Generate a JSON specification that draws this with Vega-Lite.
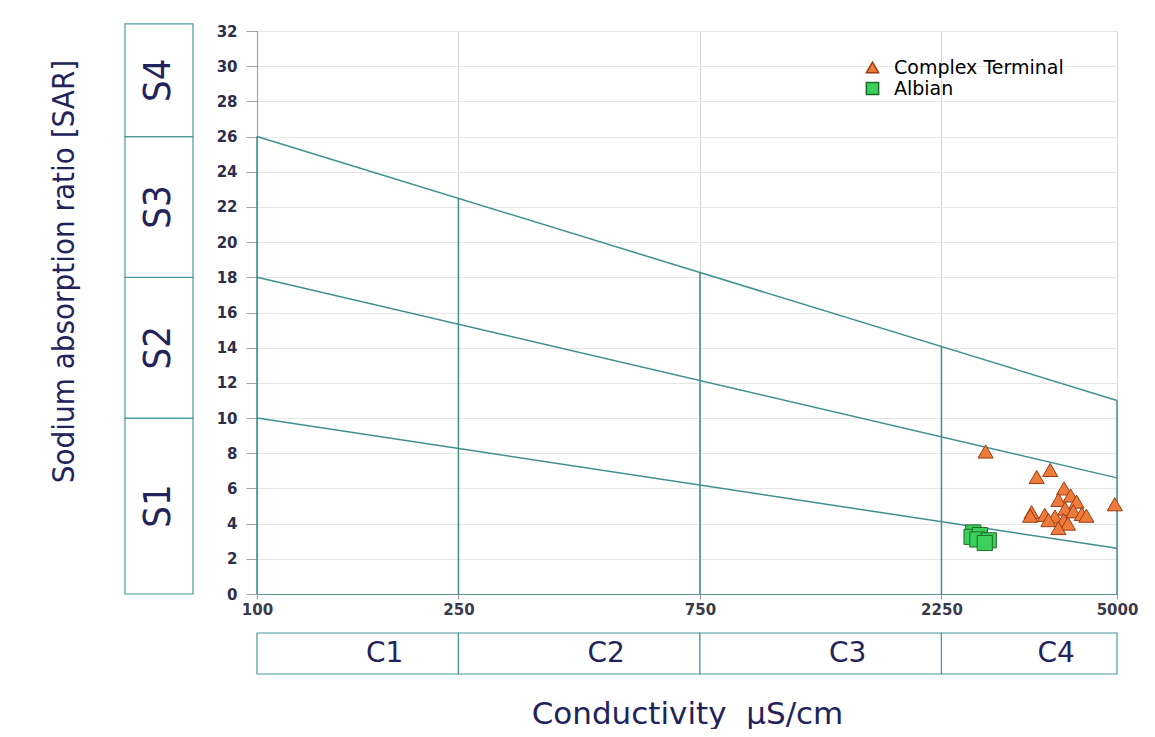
{
  "$schema": "https://vega.github.io/schema/vega-lite/v6.json",
  "background": "white",
  "padding": {"left": 48, "top": 23, "right": 10, "bottom": 0},
  "bounds": "flush",
  "spacing": 64,
  "config": {
    "font": "DejaVu Sans",
    "view": {"stroke": null},
    "axis": {"titleFontWeight": "normal"}
  },
  "datasets": {
    "sodium_classes": [
      {"cls": "S1", "lo": 0, "hi": 10},
      {"cls": "S2", "lo": 10, "hi": 18},
      {"cls": "S3", "lo": 18, "hi": 26},
      {"cls": "S4", "lo": 26, "hi": 32.4}
    ],
    "salinity_classes": [
      {"cls": "C1", "lo": 100, "hi": 250},
      {"cls": "C2", "lo": 250, "hi": 750},
      {"cls": "C3", "lo": 750, "hi": 2250},
      {"cls": "C4", "lo": 2250, "hi": 5000}
    ],
    "boundaries": [
      {"boundary": "S1-S2", "ec": 100, "sar": 10},
      {"boundary": "S1-S2", "ec": 5000, "sar": 2.6},
      {"boundary": "S2-S3", "ec": 100, "sar": 18},
      {"boundary": "S2-S3", "ec": 5000, "sar": 6.6},
      {"boundary": "S3-S4", "ec": 100, "sar": 26},
      {"boundary": "S3-S4", "ec": 5000, "sar": 11}
    ],
    "class_dividers": [
      {"ec": 100, "sar": 26},
      {"ec": 250, "sar": 22.5},
      {"ec": 750, "sar": 18.27},
      {"ec": 2250, "sar": 14.06},
      {"ec": 5000, "sar": 11}
    ],
    "samples": [
      {"group": "Complex Terminal", "ec": 2750, "sar": 8.1},
      {"group": "Complex Terminal", "ec": 3690, "sar": 7.05},
      {"group": "Complex Terminal", "ec": 3470, "sar": 6.65},
      {"group": "Complex Terminal", "ec": 4950, "sar": 5.1},
      {"group": "Complex Terminal", "ec": 3390, "sar": 4.65},
      {"group": "Complex Terminal", "ec": 3370, "sar": 4.45},
      {"group": "Complex Terminal", "ec": 3930, "sar": 6.0},
      {"group": "Complex Terminal", "ec": 4050, "sar": 5.6},
      {"group": "Complex Terminal", "ec": 3830, "sar": 5.35},
      {"group": "Complex Terminal", "ec": 4160, "sar": 5.25},
      {"group": "Complex Terminal", "ec": 3950, "sar": 4.85},
      {"group": "Complex Terminal", "ec": 4100, "sar": 4.7},
      {"group": "Complex Terminal", "ec": 3600, "sar": 4.5},
      {"group": "Complex Terminal", "ec": 3770, "sar": 4.4},
      {"group": "Complex Terminal", "ec": 4260, "sar": 4.55},
      {"group": "Complex Terminal", "ec": 4350, "sar": 4.45},
      {"group": "Complex Terminal", "ec": 3920, "sar": 4.2},
      {"group": "Complex Terminal", "ec": 3660, "sar": 4.2},
      {"group": "Complex Terminal", "ec": 4000, "sar": 4.0},
      {"group": "Complex Terminal", "ec": 3830, "sar": 3.75},
      {"group": "Albian", "ec": 2600, "sar": 3.5},
      {"group": "Albian", "ec": 2580, "sar": 3.25},
      {"group": "Albian", "ec": 2680, "sar": 3.35},
      {"group": "Albian", "ec": 2650, "sar": 3.1},
      {"group": "Albian", "ec": 2790, "sar": 3.05},
      {"group": "Albian", "ec": 2740, "sar": 2.9}
    ]
  },
  "hconcat": [
    {
      "width": 68,
      "height": 563,
      "data": {"name": "sodium_classes"},
      "layer": [
        {
          "mark": {"type": "rect", "fill": "white", "stroke": "#4b9a9a", "strokeWidth": 1.2, "clip": false},
          "encoding": {
            "y": {
              "field": "lo", "type": "quantitative",
              "scale": {"domain": [0, 32], "nice": false},
              "axis": {
                "title": "Sodium absorption ratio [SAR]",
                "labels": false, "ticks": false, "domain": false, "grid": false,
                "titleFont": "DejaVu Sans Condensed, Liberation Sans Narrow, Liberation Sans, sans-serif",
                "titleFontSize": 31,
                "titleColor": "#23235b",
                "titlePadding": 45,
                "titleY": 240
              }
            },
            "y2": {"field": "hi"}
          }
        },
        {
          "transform": [{"calculate": "(datum.lo + datum.hi) / 2", "as": "label_at"}],
          "mark": {"type": "text", "angle": 270, "font": "DejaVu Sans Condensed, Liberation Sans Narrow, Liberation Sans, sans-serif", "fontSize": 38, "fill": "#23235b", "align": "center", "baseline": "middle"},
          "encoding": {
            "y": {"field": "label_at", "type": "quantitative"},
            "text": {"field": "cls", "type": "nominal"}
          }
        }
      ]
    },
    {
      "vconcat": [
        {
          "width": 860,
          "height": 563,
          "encoding": {
            "x": {
              "field": "ec", "type": "quantitative",
              "scale": {"type": "log", "domain": [100, 5000], "nice": false},
              "axis": {
                "title": null,
                "values": [100, 250, 750, 2250, 5000],
                "format": "d",
                "labelFlush": false,
                "labelOverlap": false,
                "grid": true, "gridColor": "#d4d4d4",
                "domainColor": "#5f8f8f",
                "tickColor": "#9a9a9a", "tickSize": 5,
                "labelFont": "DejaVu Sans", "labelFontSize": 15, "labelFontWeight": "bold",
                "labelColor": "#3a3a4a", "labelPadding": 3
              }
            },
            "y": {
              "field": "sar", "type": "quantitative",
              "scale": {"domain": [0, 32], "nice": false},
              "axis": {
                "title": null,
                "values": [0, 2, 4, 6, 8, 10, 12, 14, 16, 18, 20, 22, 24, 26, 28, 30, 32],
                "tickCount": 40,
                "labelOverlap": false,
                "labelFlush": false,
                "grid": true, "gridColor": "#e6e6e6",
                "domainColor": "#7fa6a6",
                "tickColor": "#a0a0a0", "tickSize": 11,
                "labelFont": "DejaVu Sans", "labelFontSize": 15, "labelFontWeight": "bold",
                "labelColor": "#2e2e4a", "labelPadding": 9
              }
            }
          },
          "layer": [
            {
              "data": {"name": "boundaries"},
              "mark": {"type": "line", "stroke": "#3f8f8f", "strokeWidth": 1.5},
              "encoding": {
                "detail": {"field": "boundary", "type": "nominal"}
              }
            },
            {
              "data": {"name": "class_dividers"},
              "mark": {"type": "rule", "stroke": "#3f8f8f", "strokeWidth": 1.5},
              "encoding": {
                "y2": {"datum": 0}
              }
            },
            {
              "data": {"name": "samples"},
              "mark": {"type": "point", "filled": true, "opacity": 1, "strokeWidth": 1, "size": 230},
              "encoding": {
                "shape": {
                  "field": "group", "type": "nominal",
                  "scale": {"domain": ["Complex Terminal", "Albian"], "range": ["triangle-up", "square"]},
                  "legend": null
                },
                "color": {
                  "field": "group", "type": "nominal",
                  "scale": {"domain": ["Complex Terminal", "Albian"], "range": ["#ee7a3c", "#3ccf5c"]},
                  "legend": {
                    "title": null,
                    "orient": "none",
                    "legendX": 738,
                    "legendY": 27,
                    "labelFont": "DejaVu Sans",
                    "labelFontSize": 19,
                    "labelLimit": 400,
                    "labelOffset": 12,
                    "rowPadding": 1,
                    "symbolSize": 150,
                    "encode": {
                      "labels": {
                        "update": {
                          "fill": {"signal": "datum.label === 'Albian' ? '#2f6b34' : '#5a4236'"}
                        }
                      }
                    }
                  }
                },
                "stroke": {
                  "field": "group", "type": "nominal",
                  "scale": {"domain": ["Complex Terminal", "Albian"], "range": ["#9a3d12", "#1c6b26"]},
                  "legend": null
                }
              }
            }
          ]
        },
        {
          "width": 860,
          "height": 41,
          "data": {"name": "salinity_classes"},
          "layer": [
            {
              "mark": {"type": "rect", "fill": "white", "stroke": "#4b9a9a", "strokeWidth": 1.2},
              "encoding": {
                "x": {
                  "field": "lo", "type": "quantitative",
                  "scale": {"type": "log", "domain": [100, 5000], "nice": false},
                  "axis": {
                    "title": "Conductivity\u00a0 µS/cm",
                    "labels": false, "ticks": false, "domain": false, "grid": false,
                    "titleFont": "DejaVu Sans", "titleFontSize": 31,
                    "titleColor": "#23235b", "titlePadding": 25
                  }
                },
                "x2": {"field": "hi"}
              }
            },
            {
              "transform": [{"calculate": "sqrt(datum.lo * datum.hi)", "as": "label_at"}],
              "mark": {"type": "text", "fontSize": 28, "dx": 27, "fill": "#23235b", "align": "center", "baseline": "middle"},
              "encoding": {
                "x": {"field": "label_at", "type": "quantitative"},
                "text": {"field": "cls", "type": "nominal"}
              }
            }
          ]
        }
      ],
      "spacing": 39,
      "bounds": "flush"
    }
  ]
}
